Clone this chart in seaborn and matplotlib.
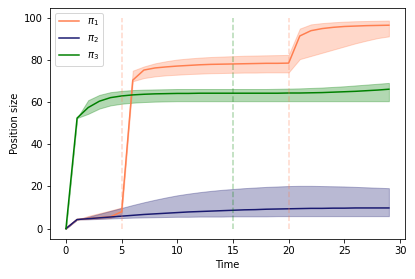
import numpy as np
import pandas as pd
import matplotlib
matplotlib.use("Agg")
import matplotlib.pyplot as plt
import seaborn as sns

# ------------------------------
# Data
# ------------------------------
time = list(range(30))

pi1_mean = [0, 4.3, 4.8, 5.2, 5.6, 8.0, 70.5, 75.3, 76.3, 76.8, 77.2, 77.5, 77.8, 78.0, 78.1,
            78.2, 78.3, 78.4, 78.5, 78.5, 78.6, 91.5, 94.0, 95.0, 95.6, 96.0, 96.2, 96.4, 96.5, 96.6]
pi1_low = [0, 4.3, 4.5, 4.8, 5.0, 7.0, 70.0, 71.5, 72.3, 72.8, 73.1, 73.4, 73.6, 73.8, 73.9,
           74.0, 74.1, 74.1, 74.2, 74.2, 74.2, 80.5, 82.0, 83.5, 85.0, 86.5, 88.0, 89.3, 90.5, 91.3]
pi1_high = [0, 4.3, 6.0, 7.3, 8.6, 10.0, 75.0, 77.0, 78.5, 79.5, 80.3, 80.8, 81.2, 81.5, 81.7,
            81.9, 82.1, 82.2, 82.3, 82.4, 82.5, 95.0, 97.0, 97.6, 98.0, 98.3, 98.5, 98.6, 98.7, 98.8]

pi2_mean = [0, 4.3, 4.7, 5.1, 5.5, 5.9, 6.3, 6.7, 7.0, 7.3, 7.6, 7.9, 8.1, 8.3, 8.5,
            8.7, 8.9, 9.0, 9.2, 9.3, 9.4, 9.5, 9.6, 9.6, 9.7, 9.7, 9.8, 9.8, 9.8, 9.8]
pi2_low = [0, 4.3, 4.4, 4.6, 4.8, 5.0, 5.2, 5.3, 5.4, 5.5, 5.6, 5.6, 5.7, 5.7, 5.7,
           5.8, 5.8, 5.8, 5.8, 5.9, 5.9, 5.9, 5.9, 5.9, 5.9, 5.9, 5.9, 5.9, 5.9, 5.9]
pi2_high = [0, 4.3, 5.6, 7.0, 8.4, 9.8, 11.2, 12.5, 13.7, 14.8, 15.8, 16.6, 17.3, 17.9, 18.4,
            18.8, 19.2, 19.5, 19.8, 20.0, 20.2, 20.3, 20.3, 20.2, 20.1, 20.0, 19.8, 19.6, 19.4, 19.2]

pi3_mean = [0, 52.5, 57.5, 60.5, 62.2, 63.0, 63.5, 63.8, 64.0, 64.1, 64.2, 64.2, 64.3, 64.3, 64.3,
            64.3, 64.3, 64.3, 64.3, 64.3, 64.4, 64.4, 64.5, 64.6, 64.8, 65.0, 65.2, 65.5, 65.8, 66.2]
pi3_low = [0, 52.5, 54.5, 57.0, 58.5, 59.3, 59.8, 60.1, 60.3, 60.4, 60.5, 60.5, 60.5, 60.5, 60.5,
           60.5, 60.5, 60.5, 60.5, 60.5, 60.5, 60.5, 60.5, 60.5, 60.5, 60.5, 60.5, 60.5, 60.5, 60.5]
pi3_high = [0, 52.5, 61.0, 63.5, 64.8, 65.4, 65.8, 66.0, 66.1, 66.2, 66.3, 66.3, 66.3, 66.3, 66.3,
            66.3, 66.3, 66.3, 66.3, 66.4, 66.5, 66.6, 66.8, 67.0, 67.3, 67.6, 68.0, 68.4, 68.8, 69.2]

labels = [r"$\pi_1$", r"$\pi_2$", r"$\pi_3$"]
colors = ["coral", "midnightblue", "green"]

# event markers: (time, colour)
event_times = [5, 20, 15]
event_colors = ["coral", "coral", "green"]

# ------------------------------
# Plot
# ------------------------------
fig, ax = plt.subplots(figsize=(415 / 72, 279 / 72), dpi=72)
fig.subplots_adjust(left=0.12, right=0.976, top=0.973, bottom=0.143)

series = [(pi1_mean, pi1_low, pi1_high), (pi2_mean, pi2_low, pi2_high), (pi3_mean, pi3_low, pi3_high)]
for (mean, low, high), label, color in zip(series, labels, colors):
    df = pd.DataFrame({"Time": time, "Position size": mean})
    sns.lineplot(data=df, x="Time", y="Position size", color=color, label=label, ax=ax)
    ax.fill_between(time, low, high, color=color, alpha=0.3)

for t, c in zip(event_times, event_colors):
    ax.vlines(t, 0, 100, colors=c, linestyles="--", alpha=0.3)

ax.legend(loc="upper left")
ax.set_xlabel("Time")
ax.set_ylabel("Position size")

plt.savefig("out.png", dpi=72)
